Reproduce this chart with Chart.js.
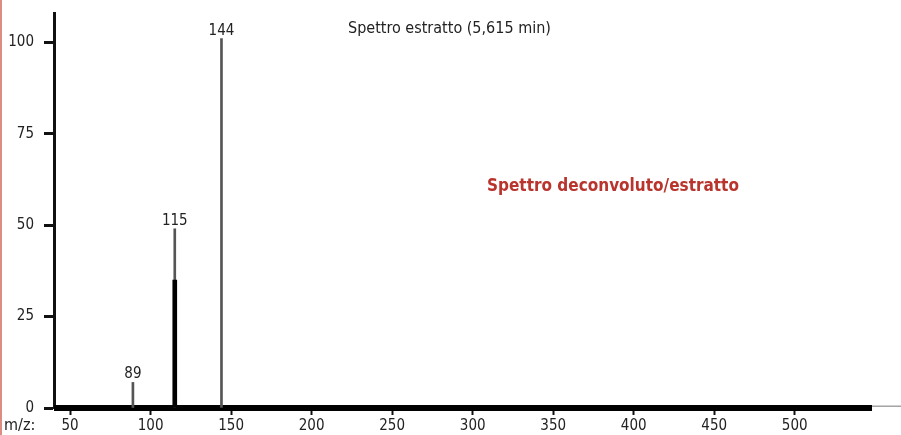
<!DOCTYPE html>
<html>
<head>
<meta charset="utf-8">
<script src="https://cdn.jsdelivr.net/npm/chart.js@4"></script>
<style>
  html, body { margin: 0; padding: 0; background: #fff; overflow: hidden; }
  canvas { display: block; }
</style>
</head>
<body>
<canvas id="spectrum" width="901" height="435"></canvas>
<script>
// m/z peaks of the extracted spectrum (thin grey lines)
const extractedMz = [89, 115, 144];
const extractedAbund = [7, 49, 101];
// deconvoluted spectrum (thick black lines)
const deconvMz = [115];
const deconvAbund = [35];
// baseline drawn along the axis
const baselineThick = [40, 548];
const baselineThin = [40, 566];

const xTicks = [50, 100, 150, 200, 250, 300, 350, 400, 450, 500];
const yTicks = [0, 25, 50, 75, 100];

const titleText = 'Spettro estratto (5,615 min)';
const redText = 'Spettro deconvoluto/estratto';
const axisLabel = 'm/z:';

const FONT = '"Liberation Sans Narrow", "DejaVu Sans Condensed", "Roboto", sans-serif';

const toPoints = (xs, ys) => xs.map((x, i) => ({ x: x, y: ys[i] }));

const annotations = {
    id: 'annotations',
    beforeDraw(chart) {
        const ctx = chart.ctx;
        ctx.save();
        ctx.fillStyle = '#fff';
        ctx.fillRect(0, 0, chart.width, chart.height);
        // thin red margin on the left
        ctx.fillStyle = '#dc8c82';
        ctx.fillRect(0, 0, 2, chart.height);
        ctx.restore();
    },
    afterDraw(chart) {
        const ctx = chart.ctx;
        const x = chart.scales.x;
        const y = chart.scales.y;
        ctx.save();

        // peak labels
        ctx.fillStyle = '#222';
        ctx.font = '15px ' + FONT;
        ctx.textAlign = 'center';
        ctx.textBaseline = 'alphabetic';
        extractedMz.forEach((mz, i) => {
            ctx.fillText(String(mz), x.getPixelForValue(mz), y.getPixelForValue(extractedAbund[i]) - 4);
        });

        // title
        ctx.textAlign = 'left';
        ctx.textBaseline = 'middle';
        ctx.font = '16px ' + FONT;
        ctx.fillText(titleText, 348, 29);

        // red caption
        ctx.fillStyle = '#b8342c';
        ctx.font = 'bold 17px ' + FONT;
        ctx.fillText(redText, 487, 187);

        // axis label
        ctx.fillStyle = '#222';
        ctx.font = '16px ' + FONT;
        ctx.fillText(axisLabel, 4, 426);
        ctx.restore();
    }
};

new Chart(document.getElementById('spectrum'), {
    type: 'bar',
    data: {
        datasets: [
            {
                type: 'bar',
                label: 'Deconvoluto',
                data: toPoints(deconvMz, deconvAbund),
                backgroundColor: '#000',
                barThickness: 4,
                grouped: false,
                order: 0
            },
            {
                type: 'bar',
                label: 'Estratto',
                data: toPoints(extractedMz, extractedAbund),
                backgroundColor: '#555',
                barThickness: 2,
                grouped: false,
                order: 1
            },
            {
                type: 'line',
                label: 'baseline',
                data: baselineThick.map(v => ({ x: v, y: 0 })),
                borderColor: '#000',
                borderWidth: 6,
                borderCapStyle: 'butt',
                pointRadius: 0,
                clip: false,
                order: 2
            },
            {
                type: 'line',
                label: 'baseline thin',
                data: baselineThin.map(v => ({ x: v, y: 0.5 })),
                borderColor: '#777',
                borderWidth: 1,
                pointRadius: 0,
                clip: false,
                order: 3
            }
        ]
    },
    options: {
        responsive: false,
        animation: false,
        layout: { padding: { top: 13, right: 0, left: 0, bottom: 0 } },
        plugins: {
            legend: { display: false },
            tooltip: { enabled: false }
        },
        scales: {
            x: {
                type: 'linear',
                min: 40,
                max: 566,
                offset: false,
                afterBuildTicks: (scale) => { scale.ticks = xTicks.map(v => ({ value: v })); },
                afterFit: (scale) => {
                    scale.height = 27;
                    scale.paddingLeft = 0;
                    scale.paddingRight = 0;
                },
                border: { display: false },
                grid: {
                    drawOnChartArea: false,
                    offset: false,
                    tickLength: 7,
                    tickColor: '#111',
                    tickWidth: 2
                },
                ticks: {
                    color: '#222',
                    padding: 2,
                    maxRotation: 0,
                    autoSkip: false,
                    font: { family: FONT, size: 15 }
                }
            },
            y: {
                min: 0,
                max: 108,
                afterBuildTicks: (scale) => { scale.ticks = yTicks.map(v => ({ value: v })); },
                afterFit: (scale) => {
                    scale.width = 54;
                    scale.paddingTop = 0;
                    scale.paddingBottom = 0;
                },
                border: { display: true, color: '#111', width: 3 },
                grid: {
                    drawOnChartArea: false,
                    tickLength: 10,
                    tickColor: '#111',
                    tickWidth: 3
                },
                ticks: {
                    color: '#222',
                    padding: 10,
                    font: { family: FONT, size: 15 }
                }
            }
        }
    },
    plugins: [annotations]
});
</script>
</body>
</html>
